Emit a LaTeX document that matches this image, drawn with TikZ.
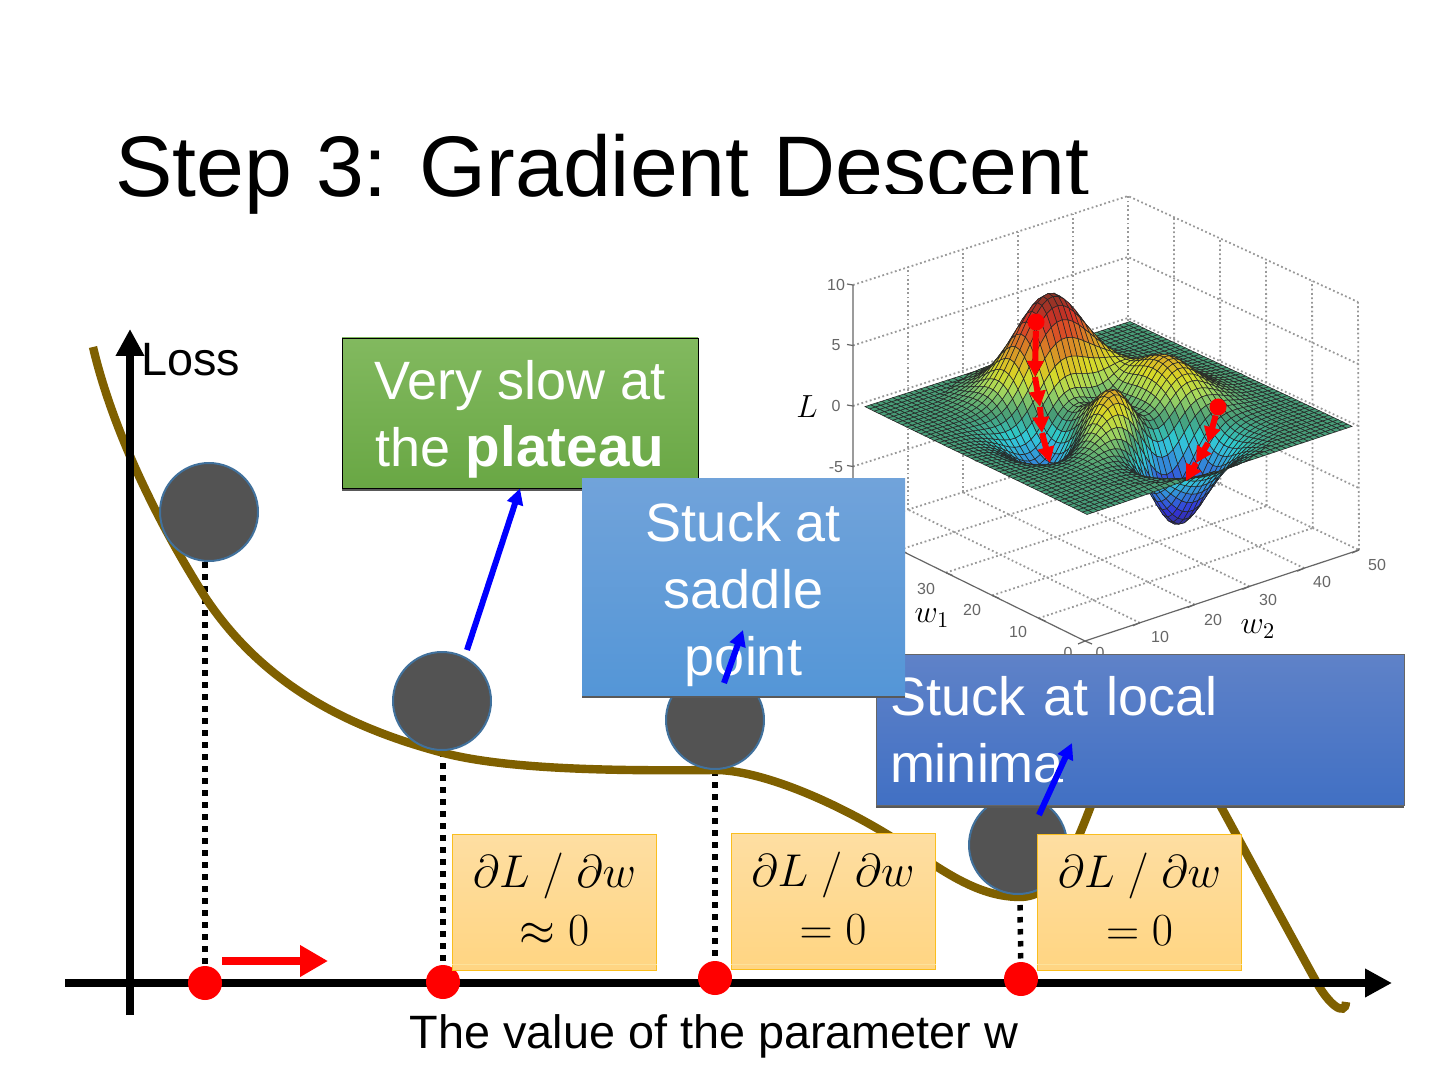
\documentclass[tikz,border=0pt]{standalone}
\usepackage{fix-cm}
\usepackage{fontspec}
\setmainfont{Liberation Sans}
\usetikzlibrary{arrows.meta,calc,shadows,backgrounds}
\definecolor{CurveBrown}{RGB}{127,96,0}
\definecolor{BallGray}{RGB}{83,83,83}
\definecolor{BallEdge}{RGB}{65,113,156}
\definecolor{OrangeTop}{RGB}{254,222,162}
\definecolor{OrangeBot}{RGB}{255,213,130}
\definecolor{OrangeEdge}{RGB}{250,190,30}
\definecolor{GreenTop}{RGB}{130,185,95}
\definecolor{GreenBot}{RGB}{105,167,68}
\definecolor{SaddleTop}{RGB}{113,163,218}
\definecolor{SaddleBot}{RGB}{84,150,215}
\definecolor{MinimaTop}{RGB}{95,130,200}
\definecolor{MinimaBot}{RGB}{65,112,196}
\newcommand{\surfX}[2]{\csname sx#1_#2\endcsname}
\newcommand{\surfY}[2]{\csname sy#1_#2\endcsname}
\newcommand{\surfZ}[2]{\csname sz#1_#2\endcsname}

\begin{document}
\begin{tikzpicture}[
    x=0.5pt,y=-0.5pt,
    note/.style={minimum width=#1,text=white,align=center,inner sep=0pt,font=\fontsize{27}{33.5}\selectfont,
      drop shadow={shadow xshift=0pt,shadow yshift=-1.6pt,fill=black!65,opacity=1}},
    grad/.style={minimum width=102pt,minimum height=68pt,draw=OrangeEdge,line width=0.5pt,top color=OrangeTop,bottom color=OrangeBot,
      align=center,inner sep=0pt,font=\fontsize{23}{29}\selectfont},
    ball/.style={circle,draw=BallEdge,line width=1pt,fill=BallGray,minimum size=49pt,inner sep=0pt},
    reddot/.style={circle,fill=red,minimum size=17pt,inner sep=0pt},
    surfdot/.style={circle,fill=red,minimum size=8.5pt,inner sep=0pt},
    label/.style={inner sep=0pt,font=\fontsize{23.4}{28}\selectfont},
    ticklbl/.style={inner sep=0pt,text=black!60,font=\fontsize{8}{9}\selectfont},
    mathlbl/.style={inner sep=0pt,font=\fontsize{16}{18}\selectfont},
    griddot/.style={black!40,line width=0.9pt,dash pattern=on 0.9pt off 1.3pt},
    plotaxis/.style={black!60,line width=0.6pt},
    axisline/.style={-{Triangle[length=13.5pt,width=13.5pt]},line width=4pt},
    bluearrow/.style={-{Triangle[length=8pt,width=8pt]},line width=3pt,blue},
    redstep/.style={-{Triangle[length=8pt,width=8pt]},line width=3pt,red},
    dropline/.style={line width=2.75pt,dash pattern=on 2.75pt off 3.25pt}
  ]
    \useasboundingbox (0,0) rectangle (1440,1080);
    \node[inner sep=0pt,anchor=base west,font=\fontsize{43}{50}\selectfont] (title) at (115,197) {Step 3: Gradient Descent};
    \fill[white] (832,194) rectangle (1404,660);

    \coordinate (lt) at (853,285);
    \coordinate (lb) at (853,527);
    \coordinate (bt) at (1128,196);
    \coordinate (bb) at (1128,440);
    \coordinate (rt) at (1358,302);
    \coordinate (rb) at (1359,550);
    \coordinate (fb) at (1085,641);
    \foreach \t in {0,0.25,0.5,0.75,1}
      \draw[griddot] ($(lb)!\t!(lt)$) -- ($(bb)!\t!(bt)$) -- ($(rb)!\t!(rt)$);
    \foreach \t in {0.2,0.4,0.6,0.8,1} {
      \draw[griddot] ($(lb)!\t!(bb)$) -- ($(lt)!\t!(bt)$);
      \draw[griddot] ($(bb)!\t!(rb)$) -- ($(bt)!\t!(rt)$);
    }
    \foreach \t in {0.2,0.4,0.6,0.8} {
      \draw[griddot] ($(fb)!\t!(lb)$) -- ($(rb)!\t!(bb)$);
      \draw[griddot] ($(fb)!\t!(rb)$) -- ($(lb)!\t!(bb)$);
    }
    \draw[plotaxis] (lt) -- (lb) -- (fb) -- (rb);
    \foreach \t in {0,0.25,0.5,0.75,1}
      \draw[plotaxis] ($(lb)!\t!(lt)$) -- ++(-6,-1);
    \foreach \t in {0,0.2,0.4,0.6,0.8,1} {
      \draw[plotaxis] ($(fb)!\t!(lb)$) -- ++(7,3);
      \draw[plotaxis] ($(fb)!\t!(rb)$) -- ++(-7,3);
    }

    \foreach \i in {0,...,48} {
      \foreach \j in {0,...,48} {
        \pgfmathsetmacro\px{-3+\j/8}
        \pgfmathsetmacro\py{-3+\i/8}
        \pgfmathsetmacro\pz{3*(1-\px)*(1-\px)*exp(-\px*\px-(\py+1)*(\py+1))-10*(\px/5-\px*\px*\px-\py*\py*\py*\py*\py)*exp(-\px*\px-\py*\py)-exp(-(\px+1)*(\px+1)-\py*\py)/3}
        \pgfmathsetmacro\sx{1087-222*\i/48+265*\j/48}
        \pgfmathsetmacro\sy{514-107*\i/48-88*\j/48+3*\i/48*\j/48-(\pz>0?11.8:12.4)*\pz}
        \expandafter\xdef\csname sx\i_\j\endcsname{\sx}
        \expandafter\xdef\csname sy\i_\j\endcsname{\sy}
        \expandafter\xdef\csname sz\i_\j\endcsname{\pz}
      }
    }
    \foreach \i in {47,46,...,0} {
      \pgfmathtruncatemacro\ii{\i+1}
      \foreach \j in {47,46,...,0} {
        \pgfmathtruncatemacro\jj{\j+1}
        \pgfmathsetmacro\zm{(\surfZ{\i}{\j}+\surfZ{\ii}{\j}+\surfZ{\i}{\jj}+\surfZ{\ii}{\jj})/4}
        \pgfmathsetmacro\t{(\zm+6.55)/14.65}
        \pgfmathsetmacro\fd{0.72+0.28*min(1,abs(\zm)/1.5)}
        \pgfmathsetmacro\cr{\fd*(0.2+0.65*max(0,min(1,1.5-abs(4*\t-3))))}
        \pgfmathsetmacro\cg{\fd*(0.2+0.65*max(0,min(1,1.5-abs(4*\t-2))))}
        \pgfmathsetmacro\cb{\fd*(0.15+0.7*max(0,min(1,1.5-abs(4*\t-1))))}
        \definecolor{cellcol}{rgb}{\cr,\cg,\cb}
        \filldraw[fill=cellcol,draw=black!85,line width=0.28pt] (\surfX{\i}{\j},\surfY{\i}{\j}) -- (\surfX{\ii}{\j},\surfY{\ii}{\j}) -- (\surfX{\ii}{\jj},\surfY{\ii}{\jj}) -- (\surfX{\i}{\jj},\surfY{\i}{\jj}) -- cycle;
      }
    }

    \node[surfdot] (peakdot) at (1036,322) {};
    \node[surfdot] (hilldot) at (1218,407) {};
    \coordinate (pa) at (1035,377);
    \coordinate (pb) at (1040,407);
    \coordinate (pc) at (1042,433);
    \coordinate (pd) at (1050,463);
    \coordinate (ha) at (1208,443);
    \coordinate (hb) at (1196,463);
    \coordinate (hc) at (1186,481);
    \draw[redstep] (peakdot) -- (pa);
    \draw[redstep] (pa) -- (pb);
    \draw[redstep] (pb) -- (pc);
    \draw[redstep] (pc) -- (pd);
    \draw[redstep] (hilldot) -- (ha);
    \draw[redstep] (ha) -- (hb);
    \draw[redstep] (hb) -- (hc);

    \foreach \v/\ty in {10/285,5/345,0/406,-5/467}
      \node[ticklbl] (zt\v) at (836,\ty) {\v};
    \foreach \v/\tx/\ty in {30/926/589,20/972/610,10/1018/632,0/1068/653}
      \node[ticklbl] (wa\v) at (\tx,\ty) {\v};
    \foreach \v/\tx/\ty in {0/1100/653,10/1160/637,20/1213/620,30/1268/600,40/1322/582,50/1377/565}
      \node[ticklbl] (wb\v) at (\tx,\ty) {\v};
    \node[mathlbl] (lossname) at (807,407) {$L$};
    \node[mathlbl] (wone) at (932,618) {$w_1$};
    \node[mathlbl] (wtwo) at (1258,629) {$w_2$};

    \draw[CurveBrown,line width=4.2pt] (93,347) .. controls (110,420) and (150,510) .. (205,597)
      .. controls (260,680) and (340,725) .. (440,752)
      .. controls (505,770) and (620,771) .. (715,770)
      .. controls (760,770) and (830,800) .. (885,833)
      .. controls (930,860) and (970,897) .. (1020,897)
      .. controls (1055,897) and (1072,855) .. (1092,803)
      .. controls (1120,730) and (1175,720) .. (1219,803)
      .. controls (1250,860) and (1285,925) .. (1317,983)
      .. controls (1328,1003) and (1345,1018) .. (1346,1002);

    \draw[axisline] (130,1015) -- (130,329);
    \draw[axisline] (65,983) -- (1392,983);
    \draw[red,-{Triangle[length=14pt,width=15pt]},line width=4pt] (222,961) -- (328,961);

    \node[ball] (ball1) at (209,512) {};
    \node[ball] (ball2) at (442,701) {};
    \node[ball] (ball3) at (715,720) {};
    \node[ball] (ball4) at (1018,845) {};
    \node[reddot] (w1) at (205,983) {};
    \node[reddot] (w2) at (443,982) {};
    \node[reddot] (w3) at (715,978) {};
    \node[reddot] (w4) at (1021,979) {};
    \begin{scope}[on background layer]
      \draw[dropline] (ball1.south -| w1) -- (w1);
      \draw[dropline] (ball2.south -| w2) -- (w2);
      \draw[dropline] (ball3.south -| w3) -- (w3);
      \draw[dropline] (1020,905) -- (w4);
    \end{scope}

    \node[label,anchor=west] (loss) at (141,360) {Loss};
    \node[label] (param) at (714,1036) {The value of the parameter w};

    \node[grad] (grad1) at (554.5,902) {$\partial L\ /\ \partial w$\\$\approx 0$\rule[-3pt]{0pt}{0pt}};
    \node[grad] (grad2) at (833,901.5) {$\partial L\ /\ \partial w$\\$=0$\rule[-3pt]{0pt}{0pt}};
    \node[grad] (grad3) at (1139.5,902) {$\partial L\ /\ \partial w$\\$=0$\rule[-3pt]{0pt}{0pt}};
    \foreach \g in {grad1,grad2,grad3}
      \draw[OrangeEdge!45,line width=0.4pt] ($(\g.south west)+(0,-6)$) -- ($(\g.south east)+(0,-6)$);

    \node[note=178pt,minimum height=75pt,draw=black,line width=0.4pt,top color=GreenTop,bottom color=GreenBot] (plateau) at (520,413) {\rule{0pt}{26pt}Very slow at\\the {\fontsize{28.3}{33.5}\selectfont\textbf{plateau}}};
    \node[note=264pt,minimum height=75.5pt,text width=250pt,align=left,draw=black!60,line width=0.3pt,top color=MinimaTop,bottom color=MinimaBot] (minima) at (1140,729.5) {Stuck at local\\minima};
    \node[note=161.5pt,minimum height=108.5pt,top color=SaddleTop,bottom color=SaddleBot] (saddle) at (743.5,586.5) {\rule{0pt}{27.7pt}Stuck at\\saddle\\point};

    \coordinate (plateaufoot) at (467,650);
    \coordinate (saddlefoot) at (724,683);
    \coordinate (saddlehead) at (743,630);
    \coordinate (minimafoot) at (1039,815);
    \coordinate (minimahead) at (1072,743);
    \draw[bluearrow] (plateaufoot) -- (plateau.south);
    \draw[bluearrow] (saddlefoot) -- (saddlehead);
    \draw[bluearrow] (minimafoot) -- (minimahead);
  \end{tikzpicture}
\end{document}
